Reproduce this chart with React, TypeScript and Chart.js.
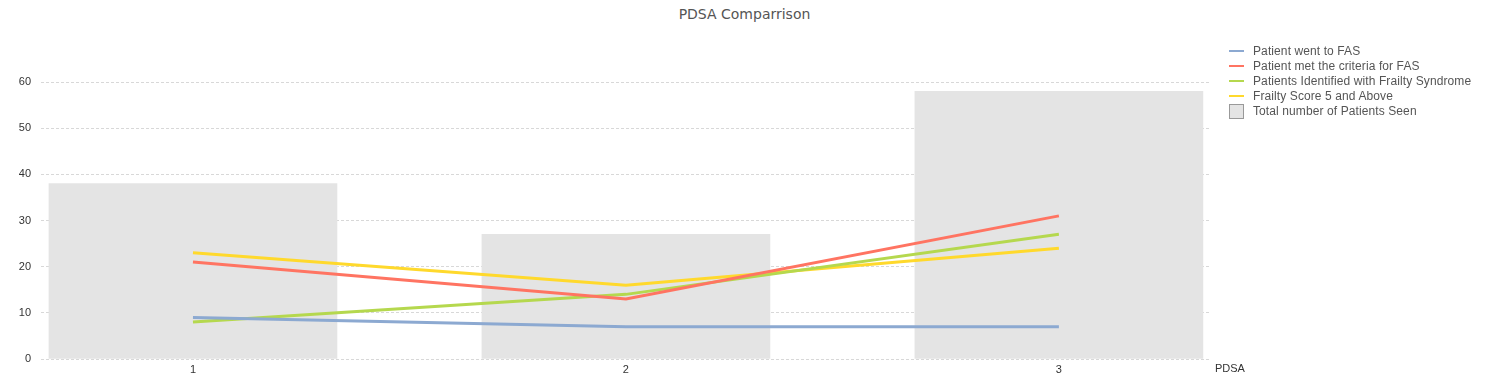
import React, { useEffect, useRef } from "react";
import { Chart, registerables } from "chart.js";

Chart.register(...registerables);

const categories = [1, 2, 3];
const totalSeen = [38, 27, 58];
const wentToFAS = [9, 7, 7];
const metCriteria = [21, 13, 31];
const identifiedFrailty = [8, 14, 27];
const frailtyScore5 = [23, 16, 24];
const yTicks = [0, 10, 20, 30, 40, 50, 60];

const lineSeries = [
  { label: "Patient went to FAS", data: wentToFAS, color: "#8CA9D1" },
  { label: "Patient met the criteria for FAS", data: metCriteria, color: "#FF7462" },
  { label: "Patients Identified with Frailty Syndrome", data: identifiedFrailty, color: "#B5D84E" },
  { label: "Frailty Score 5 and Above", data: frailtyScore5, color: "#FFD92C" },
];
const barLabel = "Total number of Patients Seen";
const barColor = "#E4E4E4";

const FONT = "'Liberation Sans', Arial, sans-serif";

export default function App() {
  const ref = useRef<HTMLCanvasElement | null>(null);

  useEffect(() => {
    if (!ref.current) return;
    const pts = (arr: number[]) => categories.map((c, i) => ({ x: c, y: arr[i] }));
    const axisTitlePlugin = {
      id: "axisTitle",
      afterDraw(chart: any) {
        const { ctx, chartArea } = chart;
        ctx.save();
        ctx.font = `11px ${FONT}`;
        ctx.fillStyle = "#333";
        ctx.textBaseline = "middle";
        ctx.textAlign = "left";
        ctx.fillText("PDSA", chartArea.right + 5, chartArea.bottom + 10);
        ctx.restore();
      },
    };
    const chart = new Chart(ref.current, {
      type: "bar",
      data: {
        datasets: [
          ...lineSeries.map((s) => ({
            type: "line" as const,
            label: s.label,
            data: pts(s.data),
            borderColor: s.color,
            backgroundColor: s.color,
            borderWidth: 3,
            pointRadius: 0,
            tension: 0,
            order: 0,
          })),
          {
            type: "bar" as const,
            label: barLabel,
            data: pts(totalSeen),
            backgroundColor: barColor,
            barThickness: 288,
            order: 10,
          },
        ],
      } as any,
      plugins: [axisTitlePlugin],
      options: {
        animation: false,
        responsive: false,
        maintainAspectRatio: false,
        layout: { padding: { left: 0, right: 279, top: 82, bottom: 0 } },
        plugins: {
          legend: { display: false },
          title: { display: false },
          tooltip: { enabled: false },
        },
        scales: {
          x: {
            type: "linear",
            offset: false,
            min: 0.649,
            max: 3.349,
            afterFit: (s: any) => { s.height = 18; },
            afterBuildTicks: (s: any) => { s.ticks = categories.map((v) => ({ value: v })); },
            grid: { display: false, drawTicks: false },
            border: { display: false },
            ticks: {
              font: { family: FONT, size: 11 },
              color: "#333",
              padding: 4,
              maxRotation: 0,
              callback: (v: any) => String(v),
            },
          },
          y: {
            min: 0,
            max: 60,
            afterFit: (s: any) => { s.width = 41; },
            afterBuildTicks: (s: any) => { s.ticks = yTicks.map((v) => ({ value: v })); },
            grid: { color: "#D8D8D8", drawTicks: false },
            border: { display: false, dash: [3, 2] },
            ticks: {
              font: { family: FONT, size: 11 },
              color: "#333",
              padding: 10,
            },
          },
        },
      } as any,
    });
    return () => chart.destroy();
  }, []);

  return (
    <div style={{ position: "fixed", left: 0, top: 0, width: 1489, height: 377, background: "#fff" }}>
      <div
        style={{
          position: "absolute",
          left: 0,
          width: 1489,
          top: 6,
          textAlign: "center",
          font: `14px 'DejaVu Sans', sans-serif`,
          color: "#555",
        }}
      >
        PDSA Comparrison
      </div>
      <canvas ref={ref} width={1489} height={377} style={{ position: "absolute", left: 0, top: 0 }} />
      <div style={{ position: "absolute", left: 1229, top: 43, font: `12px ${FONT}`, color: "#555", letterSpacing: 0.1 }}>
        {lineSeries.map((s) => (
          <div key={s.label} style={{ display: "flex", alignItems: "center", height: 15 }}>
            <span style={{ display: "inline-block", width: 15, height: 2, background: s.color, marginRight: 9 }} />
            <span>{s.label}</span>
          </div>
        ))}
        <div style={{ display: "flex", alignItems: "center", height: 16, marginTop: 0 }}>
          <span
            style={{
              display: "inline-block",
              width: 13,
              height: 13,
              background: barColor,
              border: "1px solid #999",
              marginRight: 9,
            }}
          />
          <span>{barLabel}</span>
        </div>
      </div>
    </div>
  );
}
